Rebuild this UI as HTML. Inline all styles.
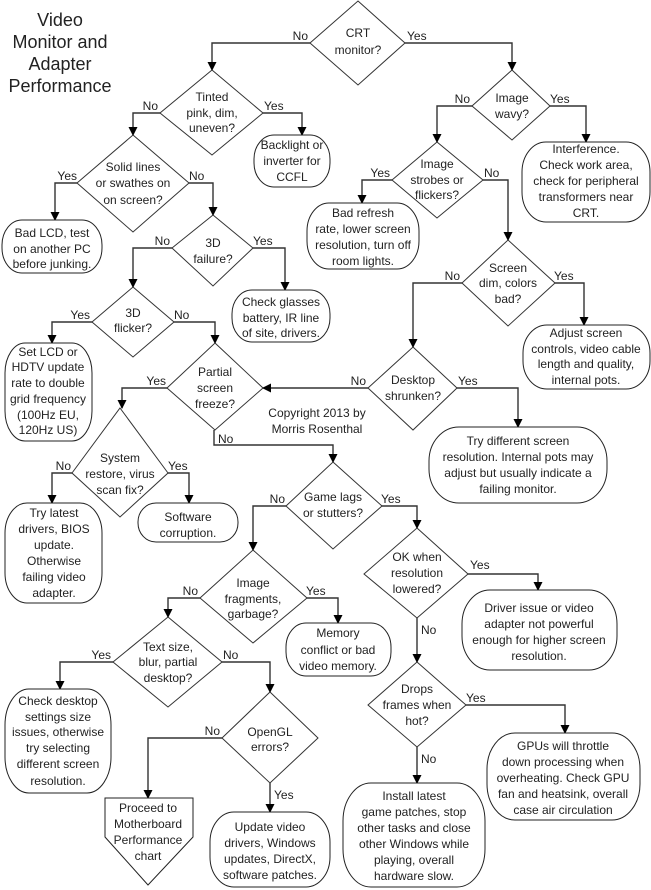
<!DOCTYPE html>
<html><head><meta charset="utf-8"><style>
html,body{margin:0;padding:0;background:#fff;}
svg{display:block;font-family:"Liberation Sans",Arial,sans-serif;}
text{font-size:12px;fill:#222;}
.t{text-anchor:middle;}
.e{text-anchor:end;}
.d{fill:#fff;stroke:#333;stroke-width:1;}
.b{fill:#fff;stroke:#222;stroke-width:1;}
.l{fill:none;stroke:#333;stroke-width:1.4;}
</style></head><body>
<svg width="651" height="890" viewBox="0 0 651 890" xmlns="http://www.w3.org/2000/svg">
<defs><marker id="a" markerWidth="9" markerHeight="9" refX="8" refY="4.5" orient="auto" markerUnits="userSpaceOnUse"><path d="M0,0 L9,4.5 L0,9 z" fill="#000"/></marker></defs>

<g style="font-size:18px">
<text class="t" x="60" y="26" style="font-size:18px">Video</text>
<text class="t" x="60" y="48" style="font-size:18px">Monitor and</text>
<text class="t" x="60" y="70" style="font-size:18px">Adapter</text>
<text class="t" x="60" y="92" style="font-size:18px">Performance</text>
</g>

<!-- connectors -->
<g class="l" marker-end="url(#a)">
<path d="M310,43 H212 V70"/>
<path d="M405,43 H512 V70"/>
<path d="M160,113 H133 V135"/>
<path d="M263,113 H302 V135"/>
<path d="M77,183 H55 V220"/>
<path d="M189,183 H213 V215"/>
<path d="M172,248 H133 V287"/>
<path d="M253,248 H285 V290"/>
<path d="M92,322 H52 V343"/>
<path d="M174,322 H215 V343"/>
<path d="M167,388 H122 V408"/>
<path d="M214,430 V445 H333 V462"/>
<path d="M368,388 H263"/>
<path d="M72,473 H52 V503"/>
<path d="M168,473 H189 V503"/>
<path d="M472,106 H437 V142"/>
<path d="M550,106 H586 V142"/>
<path d="M392,180 H362 V203"/>
<path d="M483,180 H508 V240"/>
<path d="M462,283 H413 V347"/>
<path d="M555,283 H584 V325"/>
<path d="M457,388 H518 V427"/>
<path d="M286,506 H253 V550"/>
<path d="M382,506 H417 V528"/>
<path d="M468,574 H538 V590"/>
<path d="M417,618 V662"/>
<path d="M466,705 H565 V733"/>
<path d="M417,747 V783"/>
<path d="M200,598 H168 V617"/>
<path d="M307,598 H338 V623"/>
<path d="M113,662 H60 V689"/>
<path d="M222,662 H270 V692"/>
<path d="M222,738 H148 V798"/>
<path d="M270,783 V812"/>
</g>

<!-- diamonds -->
<polygon class="d" points="358,1 405,43 358,85 310,43"/>
<polygon class="d" points="212,70 263,113 212,155 160,113"/>
<polygon class="d" points="133,135 189,183 133,232 77,183"/>
<polygon class="d" points="213,215 253,248 213,286 172,248"/>
<polygon class="d" points="133,287 174,322 133,357 92,322"/>
<polygon class="d" points="215,343 263,388 215,430 167,388"/>
<polygon class="d" points="120,408 168,473 120,517 72,473"/>
<polygon class="d" points="512,70 550,106 512,140 472,106"/>
<polygon class="d" points="437,142 483,180 437,218 392,180"/>
<polygon class="d" points="508,240 555,283 508,326 462,283"/>
<polygon class="d" points="413,347 457,388 413,430 368,388"/>
<polygon class="d" points="333,462 382,506 333,549 286,506"/>
<polygon class="d" points="417,528 468,574 417,618 364,574"/>
<polygon class="d" points="417,662 466,705 417,747 368,705"/>
<polygon class="d" points="253,550 307,598 253,643 200,598"/>
<polygon class="d" points="168,617 222,662 168,707 113,662"/>
<polygon class="d" points="270,692 318,738 270,783 222,738"/>

<!-- boxes -->
<rect class="b" x="254" y="135" width="76" height="52" rx="20" ry="24"/>
<rect class="b" x="2" y="220" width="100" height="53" rx="20" ry="25"/>
<rect class="b" x="232" y="290" width="98" height="52" rx="20" ry="24"/>
<rect class="b" x="5" y="343" width="87" height="98" rx="20" ry="30"/>
<rect class="b" x="5" y="503" width="97" height="100" rx="22" ry="30"/>
<rect class="b" x="138" y="503" width="100" height="39" rx="18" ry="19"/>
<rect class="b" x="522" y="142" width="128" height="80" rx="24" ry="30"/>
<rect class="b" x="307" y="203" width="112" height="66" rx="22" ry="28"/>
<rect class="b" x="523" y="325" width="127" height="64" rx="24" ry="28"/>
<rect class="b" x="429" y="427" width="178" height="76" rx="30" ry="34"/>
<rect class="b" x="462" y="590" width="155" height="80" rx="28" ry="34"/>
<rect class="b" x="487" y="733" width="153" height="87" rx="28" ry="36"/>
<rect class="b" x="343" y="783" width="142" height="104" rx="28" ry="38"/>
<rect class="b" x="286" y="623" width="105" height="53" rx="20" ry="24"/>
<rect class="b" x="5" y="689" width="106" height="104" rx="24" ry="36"/>
<rect class="b" x="210" y="812" width="120" height="75" rx="24" ry="30"/>
<polygon class="b" points="105,798 193,798 193,837 148,885 105,837"/>

<!-- node text -->
<g class="t">
<text x="358" y="37">CRT</text><text x="358" y="54">monitor?</text>
<text x="212" y="101">Tinted</text><text x="212" y="117">pink, dim,</text><text x="212" y="132">uneven?</text>
<text x="292" y="149">Backlight or</text><text x="292" y="165">inverter for</text><text x="292" y="181">CCFL</text>
<text x="133" y="171">Solid lines</text><text x="133" y="187">or swathes on</text><text x="133" y="204">on screen?</text>
<text x="52" y="237">Bad LCD, test</text><text x="52" y="253">on another PC</text><text x="52" y="268">before junking.</text>
<text x="213" y="247">3D</text><text x="213" y="263">failure?</text>
<text x="281" y="306">Check glasses</text><text x="281" y="322">battery, IR line</text><text x="281" y="337">of site, drivers.</text>
<text x="133" y="317">3D</text><text x="133" y="332">flicker?</text>
<text x="48" y="356">Set LCD or</text><text x="48" y="371">HDTV update</text><text x="48" y="387">rate to double</text><text x="48" y="403">grid frequency</text><text x="48" y="419">(100Hz EU,</text><text x="48" y="434">120Hz US)</text>
<text x="215" y="376">Partial</text><text x="215" y="392">screen</text><text x="215" y="408">freeze?</text>
<text x="317" y="417">Copyright 2013 by</text><text x="317" y="433">Morris Rosenthal</text>
<text x="120" y="462">System</text><text x="120" y="478">restore, virus</text><text x="120" y="494">scan fix?</text>
<text x="54" y="517">Try latest</text><text x="54" y="533">drivers, BIOS</text><text x="54" y="549">update.</text><text x="54" y="565">Otherwise</text><text x="54" y="581">failing video</text><text x="54" y="597">adapter.</text>
<text x="188" y="521">Software</text><text x="188" y="537">corruption.</text>
<text x="512" y="102">Image</text><text x="512" y="118">wavy?</text>
<text x="586" y="153">Interference.</text><text x="586" y="169">Check work area,</text><text x="586" y="185">check for peripheral</text><text x="586" y="201">transformers near</text><text x="586" y="217">CRT.</text>
<text x="437" y="168">Image</text><text x="437" y="184">strobes or</text><text x="437" y="199">flickers?</text>
<text x="363" y="217">Bad refresh</text><text x="363" y="233">rate, lower screen</text><text x="363" y="249">resolution, turn off</text><text x="363" y="265">room lights.</text>
<text x="508" y="272">Screen</text><text x="508" y="287">dim, colors</text><text x="508" y="303">bad?</text>
<text x="586" y="337">Adjust screen</text><text x="586" y="353">controls, video cable</text><text x="586" y="368">length and quality,</text><text x="586" y="384">internal pots.</text>
<text x="413" y="384">Desktop</text><text x="413" y="400">shrunken?</text>
<text x="518" y="445">Try different screen</text><text x="518" y="461">resolution. Internal pots may</text><text x="518" y="477">adjust but usually indicate a</text><text x="518" y="493">failing monitor.</text>
<text x="333" y="501">Game lags</text><text x="333" y="517">or stutters?</text>
<text x="417" y="561">OK when</text><text x="417" y="577">resolution</text><text x="417" y="593">lowered?</text>
<text x="539" y="612">Driver issue or video</text><text x="539" y="628">adapter not powerful</text><text x="539" y="644">enough for higher screen</text><text x="539" y="660">resolution.</text>
<text x="417" y="693">Drops</text><text x="417" y="709">frames when</text><text x="417" y="725">hot?</text>
<text x="563" y="750">GPUs will throttle</text><text x="563" y="766">down processing when</text><text x="563" y="782">overheating. Check GPU</text><text x="563" y="798">fan and heatsink, overall</text><text x="563" y="814">case air circulation</text>
<text x="414" y="800">Install latest</text><text x="414" y="816">game patches, stop</text><text x="414" y="832">other tasks and close</text><text x="414" y="848">other Windows while</text><text x="414" y="864">playing, overall</text><text x="414" y="880">hardware slow.</text>
<text x="253" y="587">Image</text><text x="253" y="603">fragments,</text><text x="253" y="618">garbage?</text>
<text x="338" y="637">Memory</text><text x="338" y="654">conflict or bad</text><text x="338" y="670">video memory.</text>
<text x="168" y="651">Text size,</text><text x="168" y="666">blur, partial</text><text x="168" y="682">desktop?</text>
<text x="58" y="705">Check desktop</text><text x="58" y="721">settings size</text><text x="58" y="736">issues, otherwise</text><text x="58" y="752">try selecting</text><text x="58" y="768">different screen</text><text x="58" y="785">resolution.</text>
<text x="270" y="736">OpenGL</text><text x="270" y="751">errors?</text>
<text x="148" y="812">Proceed to</text><text x="148" y="828">Motherboard</text><text x="148" y="844">Performance</text><text x="148" y="860">chart</text>
<text x="270" y="831">Update video</text><text x="270" y="847">drivers, Windows</text><text x="270" y="863">updates, DirectX,</text><text x="270" y="879">software patches.</text>
</g>

<!-- branch labels -->
<text class="e" x="308" y="40">No</text><text x="407" y="40">Yes</text>
<text class="e" x="158" y="110">No</text><text x="264" y="110">Yes</text>
<text class="e" x="77" y="180">Yes</text><text x="189" y="180">No</text>
<text class="e" x="170" y="245">No</text><text x="253" y="245">Yes</text>
<text class="e" x="90" y="319">Yes</text><text x="174" y="319">No</text>
<text class="e" x="166" y="385">Yes</text><text x="218" y="443">No</text>
<text class="e" x="366" y="385">No</text><text x="458" y="385">Yes</text>
<text class="e" x="71" y="470">No</text><text x="168" y="470">Yes</text>
<text class="e" x="470" y="103">No</text><text x="550" y="103">Yes</text>
<text class="e" x="390" y="177">Yes</text><text x="484" y="177">No</text>
<text class="e" x="460" y="280">No</text><text x="554" y="280">Yes</text>
<text class="e" x="285" y="503">No</text><text x="381" y="503">Yes</text>
<text x="470" y="569">Yes</text><text x="421" y="634">No</text>
<text x="466" y="702">Yes</text><text x="421" y="763">No</text>
<text class="e" x="198" y="595">No</text><text x="306" y="595">Yes</text>
<text class="e" x="111" y="659">Yes</text><text x="223" y="659">No</text>
<text class="e" x="220" y="735">No</text><text x="274" y="799">Yes</text>
</svg>
</body></html>
